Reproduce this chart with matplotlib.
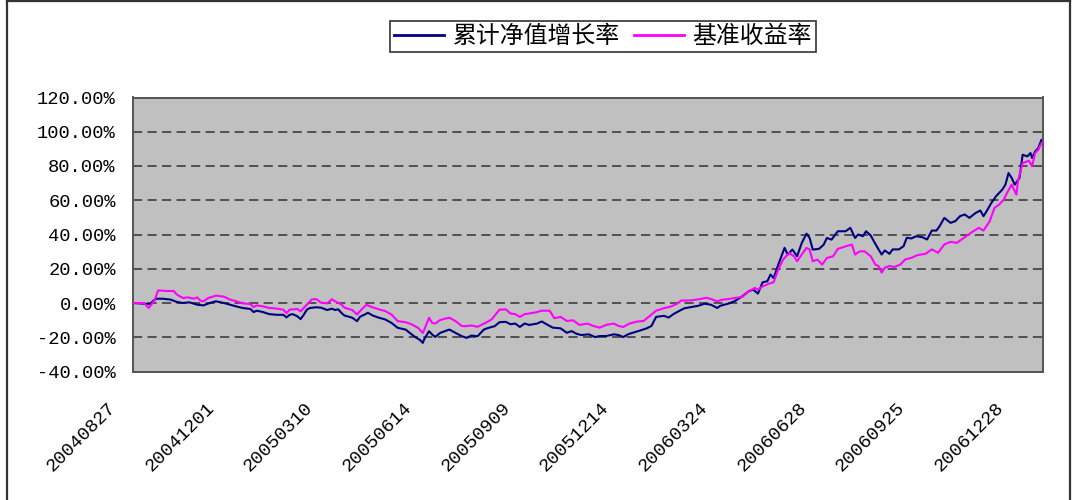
import matplotlib
matplotlib.use('Agg')
import matplotlib.pyplot as plt
import matplotlib.transforms as mtransforms
from matplotlib.font_manager import FontProperties
from matplotlib.lines import Line2D

# ---------------- data ----------------
series_names = ['累计净值增长率', '基准收益率']
tick_labels = ['20040827', '20041201', '20050310', '20050614', '20050909',
               '20051214', '20060324', '20060628', '20060925', '20061228']
tick_step = 63          # trading days between labelled dates
last_day = 581          # index of last trading day shown
y_ticks = [-40, -20, 0, 20, 40, 60, 80, 100, 120]

fund_days = [0, 11, 13, 15, 19, 24, 28, 32, 36, 41, 45, 49, 53, 58, 62, 66, 70, 75, 77, 79,
             83, 87, 92, 96, 98, 100, 102, 105, 107, 109, 111, 113, 117, 120, 124, 127, 129,
             131, 133, 135, 140, 143, 145, 148, 150, 153, 157, 161, 165, 169, 174, 178, 181,
             183, 185, 186, 189, 191, 193, 196, 199, 202, 206, 210, 213, 216, 220, 224, 227,
             231, 234, 238, 241, 244, 247, 250, 253, 258, 261, 264, 268, 273, 277, 280, 283,
             286, 291, 295, 298, 302, 307, 310, 313, 316, 319, 324, 328, 331, 334, 339, 342,
             345, 349, 352, 357, 361, 365, 369, 373, 375, 380, 384, 389, 393, 396, 399, 402,
             405, 407, 409, 412, 414, 416, 418, 421, 424, 427, 430, 432, 434, 438, 441, 443,
             446, 450, 455, 458, 461, 463, 466, 468, 471, 473, 476, 478, 480, 483, 485, 489,
             492, 494, 497, 500, 504, 507, 510, 513, 515, 518, 522, 525, 528, 531, 534, 538,
             541, 543, 545, 548, 551, 555, 557, 559, 561, 563, 566, 568, 571, 573, 574, 576,
             578, 580, 581]
fund_vals = [0.0, -0.6, 1.4, 2.5, 2.5, 2.0, 0.6, 0.0, 0.4, -1.0, -1.4, 0.0, 1.0, 0.0, -1.0,
             -2.0, -2.9, -3.5, -5.3, -4.5, -5.3, -6.5, -6.9, -6.9, -8.4, -6.9, -6.5, -7.8,
             -9.4, -6.9, -3.9, -2.9, -2.5, -2.7, -4.1, -3.3, -4.1, -3.7, -5.7, -7.3, -8.6,
             -10.6, -8.0, -6.7, -5.7, -7.3, -8.6, -9.6, -11.6, -14.5, -15.5, -18.4, -20.4,
             -21.4, -23.3, -21.0, -16.5, -18.4, -19.8, -17.5, -16.5, -15.5, -17.5, -19.4,
             -20.4, -19.0, -19.4, -15.5, -14.5, -13.5, -11.2, -11.0, -12.4, -12.0, -14.0,
             -12.0, -12.8, -12.0, -10.8, -12.4, -14.4, -14.8, -17.4, -16.4, -17.9, -18.7,
             -18.3, -19.9, -19.3, -19.3, -18.3, -18.7, -19.9, -18.3, -17.4, -16.0, -14.8,
             -13.4, -8.1, -7.5, -8.5, -6.5, -4.5, -3.1, -2.3, -1.6, -0.4, -1.0, -2.9, -1.6,
             -0.4, 1.0, 3.9, 6.8, 7.8, 5.5, 12.1, 12.7, 16.6, 14.6, 22.4, 27.3, 32.2, 28.3,
             31.2, 27.3, 35.1, 40.5, 38.0, 31.2, 31.6, 34.1, 38.0, 37.0, 41.9, 41.9, 43.9,
             38.0, 40.0, 39.0, 41.9, 39.4, 36.1, 31.3, 28.3, 30.7, 28.7, 31.3, 31.3, 33.2,
             38.1, 37.7, 39.0, 38.4, 37.1, 42.3, 42.3, 44.9, 49.7, 46.8, 47.8, 50.7, 51.7,
             49.7, 52.6, 54.0, 50.7, 53.6, 58.4, 62.3, 66.2, 69.1, 75.9, 73.0, 69.1, 73.0,
             86.6, 85.6, 87.6, 84.7, 88.5, 90.5, 95.3, 95.0]

bench_days = [0, 7, 10, 12, 14, 16, 17, 22, 26, 28, 32, 35, 39, 41, 43, 45, 48, 53, 58, 62,
              66, 70, 75, 77, 79, 83, 87, 92, 96, 98, 100, 105, 107, 109, 111, 114, 117, 120,
              124, 127, 129, 133, 135, 140, 143, 146, 149, 152, 157, 161, 165, 169, 174, 178,
              182, 185, 186, 189, 191, 193, 196, 199, 202, 206, 210, 213, 216, 220, 225, 229,
              234, 238, 241, 244, 247, 250, 253, 257, 261, 266, 269, 273, 277, 281, 285, 290,
              294, 298, 302, 307, 310, 313, 317, 322, 326, 330, 334, 339, 343, 347, 350, 356,
              362, 366, 369, 373, 376, 380, 384, 389, 393, 397, 399, 402, 406, 409, 412, 415,
              417, 419, 422, 424, 427, 430, 432, 434, 437, 440, 443, 447, 450, 455, 459, 461,
              464, 467, 471, 474, 476, 478, 480, 483, 486, 490, 493, 497, 501, 506, 510, 514,
              518, 522, 526, 529, 532, 536, 540, 543, 547, 550, 553, 556, 558, 561, 564, 565,
              568, 572, 574, 576, 578, 580, 581]
bench_vals = [0.0, 0.0, -2.9, -0.6, 2.0, 7.3, 7.3, 7.0, 7.0, 4.9, 2.9, 3.3, 2.5, 3.3, 1.4,
              1.0, 2.9, 4.3, 3.7, 2.0, 1.0, -0.2, -0.6, -2.4, -1.4, -2.0, -2.9, -3.3, -3.9,
              -5.9, -3.9, -3.5, -4.9, -2.9, -1.0, 2.0, 2.3, 0.2, -0.2, 2.2, 1.0, -0.8, -2.7,
              -4.1, -6.7, -3.7, -1.0, -2.2, -3.7, -4.7, -6.7, -10.6, -11.2, -12.5, -14.5,
              -17.5, -15.5, -8.6, -11.6, -12.0, -10.0, -9.2, -8.6, -10.6, -13.5, -13.5, -13.1,
              -13.9, -11.6, -9.6, -3.9, -3.7, -6.1, -6.5, -8.1, -6.5, -6.1, -5.5, -4.5, -4.5,
              -8.9, -8.1, -10.5, -10.1, -12.8, -12.0, -13.4, -14.4, -12.8, -12.0, -13.4, -14.0,
              -12.0, -10.8, -10.5, -7.5, -4.5, -3.0, -2.2, -0.6, 1.4, 1.5, 2.3, 3.1, 2.3, 1.0,
              1.9, 2.3, 2.9, 3.5, 6.8, 8.8, 7.8, 9.7, 11.3, 12.1, 19.5, 25.3, 27.3, 29.2, 27.3,
              24.4, 28.3, 32.2, 31.2, 24.4, 25.3, 22.4, 26.3, 27.3, 31.6, 33.1, 34.1, 28.3,
              30.2, 30.2, 27.3, 22.4, 21.6, 17.7, 20.6, 21.6, 21.0, 22.5, 25.4, 26.4, 28.0,
              28.7, 31.3, 29.3, 34.2, 35.7, 35.1, 37.1, 39.0, 41.6, 43.9, 42.3, 47.8, 55.5,
              57.5, 60.4, 64.3, 69.1, 63.3, 71.1, 81.7, 83.1, 79.8, 87.6, 89.5, 93.4, 93.0]

# ---------------- figure ----------------
W, H = 1078, 500
fig = plt.figure(figsize=(W / 100, H / 100), dpi=100)
fig.patch.set_facecolor('white')

# outer chart border
border_kw = dict(color='#333333', lw=1.6, transform=fig.transFigure)
fig.add_artist(Line2D([7 / W, 7 / W], [0, 1 - 1 / H], **border_kw))
fig.add_artist(Line2D([7 / W, 1070 / W], [1 - 1 / H, 1 - 1 / H], **border_kw))
fig.add_artist(Line2D([1070 / W, 1070 / W], [0, 1 - 1 / H], **border_kw))

left, right, top, bottom = 133, 1043, 97.5, 371.5
ax = fig.add_axes([left / W, 1 - bottom / H, (right - left) / W, (bottom - top) / H])
ax.set_facecolor('#C0C0C0')
for s in ax.spines.values():
    s.set_color('#555555')
    s.set_linewidth(1.4)

ax.set_xlim(0, last_day)
ax.set_ylim(y_ticks[0], y_ticks[-1])

ax.yaxis.grid(True, color='#333333', linewidth=1.1, linestyle=(0, (6, 3.5)))
ax.set_axisbelow(True)

l1, = ax.plot(fund_days, fund_vals, color='#000080', lw=1.5, label=series_names[0], zorder=2)
l2, = ax.plot(bench_days, bench_vals, color='#FF00FF', lw=1.5, label=series_names[1], zorder=3)

tick_font = FontProperties(family='Liberation Mono', size=13.5)
ax.set_yticks(y_ticks)
ax.set_yticklabels([f'{v:.2f}%' for v in y_ticks], fontproperties=tick_font)
ax.tick_params(axis='y', length=0, pad=12.5, colors='black')

xt = [i * tick_step for i in range(len(tick_labels))]
ax.set_xticks(xt)
ax.set_xticklabels(tick_labels, fontproperties=tick_font, rotation=45,
                   ha='right', va='center', rotation_mode='anchor')
ax.tick_params(axis='x', length=0, pad=24.5, colors='black')
off = mtransforms.ScaledTranslation(-20 / 100, 0, fig.dpi_scale_trans)
for lab in ax.get_xticklabels():
    lab.set_transform(lab.get_transform() + off)

leg_font = FontProperties(family=['Noto Sans CJK SC', 'DejaVu Sans'], size=17.2)
leg = fig.legend(handles=[l1, l2], labels=series_names, loc='center',
                 bbox_to_anchor=(603 / W, 1 - 36.5 / H), ncol=2, prop=leg_font,
                 frameon=True, fancybox=False, shadow=False, framealpha=1,
                 edgecolor='#333333', handlelength=2.1, handletextpad=0.35,
                 columnspacing=0.6, borderpad=0.15, borderaxespad=0)
leg.get_frame().set_linewidth(1.2)
for h in leg.legend_handles:
    h.set_linewidth(2.0)

fig.savefig('out.png', dpi=100, facecolor='white')
